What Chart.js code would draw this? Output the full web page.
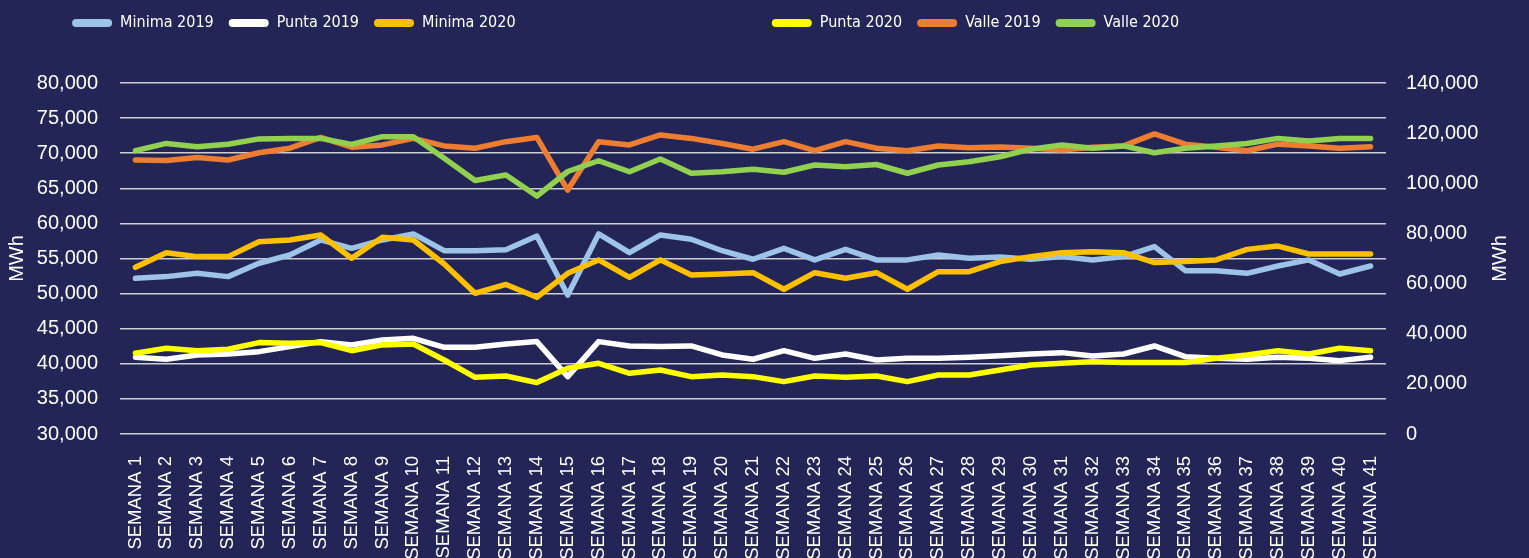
<!DOCTYPE html>
<html>
<head>
<meta charset="utf-8">
<script src="https://cdn.jsdelivr.net/npm/chart.js@4.4.0/dist/chart.umd.min.js"></script>
<style>
  html, body { margin: 0; padding: 0; background: #232557; overflow: hidden; }
  #wrap { width: 1529px; height: 558px; position: relative; }
</style>
</head>
<body>
<div id="wrap"><canvas id="chart"></canvas></div>
<script>
const semanas = [
  'SEMANA 1', 'SEMANA 2', 'SEMANA 3', 'SEMANA 4', 'SEMANA 5', 'SEMANA 6', 'SEMANA 7',
  'SEMANA 8', 'SEMANA 9', 'SEMANA 10', 'SEMANA 11', 'SEMANA 12', 'SEMANA 13', 'SEMANA 14',
  'SEMANA 15', 'SEMANA 16', 'SEMANA 17', 'SEMANA 18', 'SEMANA 19', 'SEMANA 20', 'SEMANA 21',
  'SEMANA 22', 'SEMANA 23', 'SEMANA 24', 'SEMANA 25', 'SEMANA 26', 'SEMANA 27', 'SEMANA 28',
  'SEMANA 29', 'SEMANA 30', 'SEMANA 31', 'SEMANA 32', 'SEMANA 33', 'SEMANA 34', 'SEMANA 35',
  'SEMANA 36', 'SEMANA 37', 'SEMANA 38', 'SEMANA 39', 'SEMANA 40', 'SEMANA 41'
];

// left axis (MWh)
const minima2019 = [52180, 52420, 52890, 52420, 54320, 55500, 57640, 56450, 57640, 58500, 56110, 56110, 56250, 58200, 49800, 58500, 55830, 58360, 57740, 56110, 54890, 56450, 54800, 56300, 54800, 54800, 55500, 55040, 55230, 54890, 55270, 54800, 55270, 56690, 53270, 53270, 52890, 53930, 54800, 52790, 53930];
const punta2019 = [40930, 40650, 41260, 41400, 41730, 42450, 43160, 42690, 43390, 43630, 42350, 42350, 42820, 43160, 38170, 43160, 42540, 42450, 42540, 41260, 40650, 41870, 40780, 41400, 40540, 40780, 40780, 40930, 41140, 41400, 41590, 41120, 41400, 42540, 41020, 40780, 40650, 40930, 40780, 40450, 40930];
const minima2020 = [53750, 55830, 55270, 55270, 57400, 57640, 58360, 55040, 58030, 57640, 54220, 50050, 51300, 49480, 52890, 54800, 52320, 54800, 52650, 52790, 52980, 50620, 52980, 52180, 52980, 50620, 53130, 53130, 54560, 55270, 55830, 55970, 55830, 54420, 54560, 54800, 56300, 56770, 55640, 55640, 55640];
const punta2020 = [41500, 42210, 41870, 42070, 43020, 42920, 43020, 41870, 42690, 42820, 40540, 38070, 38260, 37320, 39360, 40070, 38650, 39120, 38170, 38400, 38170, 37460, 38260, 38070, 38260, 37460, 38400, 38400, 39120, 39830, 40070, 40310, 40170, 40170, 40170, 40780, 41260, 41870, 41400, 42210, 41870];

// right axis (MWh)
const valle2019 = [109300, 109100, 110300, 109300, 112200, 114000, 118300, 114400, 115300, 117900, 114900, 114000, 116600, 118300, 97300, 116600, 115300, 119300, 117900, 115900, 113600, 116600, 113000, 116600, 114000, 113000, 114900, 114200, 114500, 114000, 113300, 114400, 114900, 119700, 115600, 114400, 113000, 115600, 114900, 114000, 114600];
const valle2020 = [113000, 115900, 114600, 115600, 117700, 117900, 117900, 115500, 118600, 118600, 110000, 101100, 103300, 94900, 104700, 109000, 104600, 109700, 104000, 104600, 105600, 104400, 107300, 106600, 107500, 104000, 107300, 108600, 110600, 113600, 115300, 114000, 114900, 112200, 114000, 114900, 115900, 117900, 116900, 117900, 117900];

const legendFont = "'DejaVu Sans Condensed', 'Liberation Sans', sans-serif";
const axisFont = "'Liberation Sans', Arial, sans-serif";
const white = '#ffffff';

function serie(label, data, color, axis, order) {
  return {
    label: label,
    data: data,
    yAxisID: axis,
    borderColor: color,
    backgroundColor: color,
    borderWidth: 5.5,
    pointRadius: 0,
    tension: 0,
    borderCapStyle: 'round',
    borderJoinStyle: 'round',
    fill: false,
    order: order
  };
}

// "MWh" on the right reads bottom-to-top like the left one
const rightTitle = {
  id: 'rightTitle',
  afterDraw(chart) {
    const { ctx, chartArea, scales } = chart;
    ctx.save();
    ctx.translate(scales.y1.right - 29, (chartArea.top + chartArea.bottom) / 2);
    ctx.rotate(-Math.PI / 2);
    ctx.font = '20px ' + axisFont;
    ctx.fillStyle = white;
    ctx.textAlign = 'center';
    ctx.textBaseline = 'middle';
    ctx.fillText('MWh', 0, 0);
    ctx.restore();
  }
};

// empty legend slots, used to open the gap in the middle of the row
const gap = n => ({
  text: ' '.repeat(n),
  fillStyle: 'rgba(0,0,0,0)',
  strokeStyle: 'rgba(0,0,0,0)',
  lineWidth: 0,
  fontColor: 'rgba(0,0,0,0)'
});

new Chart(document.getElementById('chart'), {
  type: 'line',
  data: {
    labels: semanas,
    datasets: [
      serie('Minima 2019', minima2019, '#9DC3E6', 'y', 6),
      serie('Punta 2019', punta2019, '#FFFFFF', 'y', 5),
      serie('Minima 2020', minima2020, '#FFC000', 'y', 4),
      serie('Punta 2020', punta2020, '#FFFF00', 'y', 3),
      serie('Valle 2019', valle2019, '#ED7D31', 'y1', 2),
      serie('Valle 2020', valle2020, '#92D050', 'y1', 1)
    ]
  },
  options: {
    responsive: true,
    maintainAspectRatio: false,
    animation: false,
    layout: { padding: { top: 0, left: 0, right: 0, bottom: 0 } },
    plugins: {
      tooltip: { enabled: false },
      legend: {
        position: 'top',
        labels: {
          boxWidth: 40,
          boxHeight: 8,
          padding: 15,
          color: white,
          font: { size: 16, family: legendFont },
          generateLabels(chart) {
            const items = chart.data.datasets.map((ds, i) => ({
              text: ds.label,
              fillStyle: ds.borderColor,
              strokeStyle: ds.borderColor,
              lineWidth: 0,
              borderRadius: 4,
              fontColor: white,
              hidden: !chart.isDatasetVisible(i),
              datasetIndex: i
            }));
            items.splice(3, 0, gap(39));
            items.push(gap(47));
            return items;
          }
        }
      }
    },
    scales: {
      x: {
        offset: true,
        grid: { display: false },
        border: { display: false },
        ticks: {
          color: white,
          font: { size: 18.5, family: axisFont },
          minRotation: 90,
          maxRotation: 90,
          autoSkip: false,
          padding: 14
        },
        afterFit: s => { s.height = 124; }
      },
      xTop: {
        type: 'category',
        position: 'top',
        grid: { display: false },
        border: { display: false },
        ticks: { display: false },
        afterFit: s => { s.height = 42; }
      },
      y: {
        position: 'left',
        min: 30000,
        max: 80000,
        ticks: { stepSize: 5000, color: white, font: { size: 20, family: axisFont }, padding: 22 },
        grid: { color: 'rgba(215,215,215,0.95)', lineWidth: 1.5, drawTicks: false },
        border: { display: false },
        title: {
          display: true,
          text: 'MWh',
          color: white,
          font: { size: 20, family: axisFont },
          padding: { top: 5, bottom: 0 }
        },
        afterFit: s => { s.width = 120; }
      },
      y1: {
        position: 'right',
        min: 0,
        max: 140000,
        ticks: { stepSize: 20000, color: white, font: { size: 20, family: axisFont }, padding: 20 },
        grid: { display: false, drawTicks: false },
        border: { display: false },
        afterFit: s => { s.width = 143; }
      }
    }
  },
  plugins: [rightTitle]
});
</script>
</body>
</html>
